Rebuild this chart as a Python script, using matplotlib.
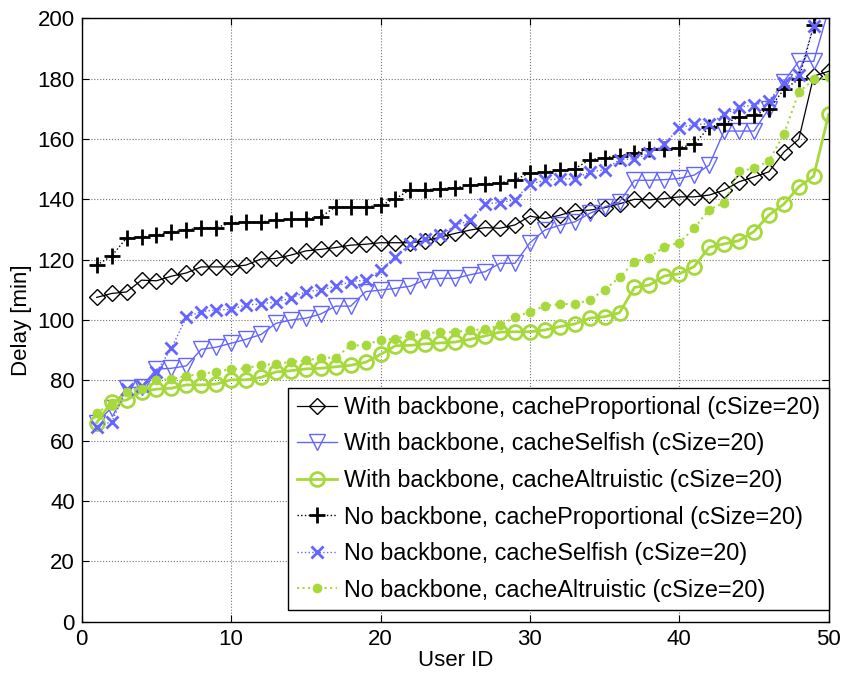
import matplotlib
matplotlib.use("Agg")
import matplotlib.pyplot as plt
import numpy as np

plt.rcParams["font.family"] = ["Liberation Sans", "DejaVu Sans"]

# ----- data ----------------------------------------------------------
user_id = np.arange(1, 51)

prop_bb = [107.5, 108.8, 109.3, 113.2, 113.0, 114.5, 115.6, 117.6, 117.6, 117.6,
           118.2, 120.2, 120.4, 121.5, 122.9, 123.4, 124.0, 124.8, 125.1, 125.6,
           125.6, 125.6, 126.2, 127.5, 128.7, 129.8, 130.6, 130.4, 131.5, 134.4,
           133.6, 134.7, 136.2, 136.4, 137.2, 138.5, 140.0, 139.8, 140.2, 140.8,
           140.8, 141.4, 143.0, 145.8, 147.4, 149.1, 155.6, 159.9, 180.8, 182.4]

selfish_bb = [66.0, 71.0, 77.4, 77.9, 83.7, 84.0, 84.8, 90.3, 91.0, 92.3,
              93.6, 95.2, 98.9, 100.0, 100.6, 102.0, 104.6, 104.6, 109.4, 109.9,
              110.5, 111.2, 113.4, 113.8, 113.8, 115.0, 116.0, 118.8, 118.8, 125.6,
              129.8, 131.4, 132.5, 135.3, 137.5, 139.1, 146.3, 146.3, 146.5, 146.9,
              148.0, 151.3, 162.6, 162.6, 162.6, 170.0, 179.0, 185.7, 185.7, 203.0]

altr_bb = [66.0, 72.9, 73.5, 76.3, 77.1, 77.4, 78.5, 78.5, 78.8, 80.2,
           80.2, 81.0, 82.8, 83.2, 83.8, 84.0, 84.5, 85.0, 86.0, 88.6,
           91.5, 91.6, 92.1, 92.4, 92.7, 93.6, 94.7, 96.0, 96.1, 96.1,
           96.7, 97.8, 98.7, 100.6, 101.1, 102.4, 110.8, 111.6, 114.6, 115.3,
           117.7, 124.1, 125.2, 126.3, 129.3, 134.8, 138.4, 144.1, 147.7, 168.1]

prop_nobb = [118.2, 121.2, 127.2, 127.5, 128.1, 129.2, 129.8, 130.6, 130.6, 132.2,
             132.5, 132.5, 133.1, 133.3, 133.6, 134.2, 137.5, 137.5, 137.5, 138.0,
             140.2, 143.2, 143.2, 143.5, 143.9, 144.6, 145.2, 145.4, 146.5, 148.7,
             149.0, 149.6, 150.1, 153.1, 153.8, 154.5, 155.3, 156.7, 156.5, 157.1,
             158.2, 163.9, 165.0, 167.2, 167.9, 169.8, 176.4, 179.7, 197.6, 212.0]

selfish_nobb = [64.7, 66.3, 77.0, 78.0, 82.9, 90.6, 100.9, 102.8, 103.3, 103.5,
                105.0, 105.3, 106.0, 107.2, 109.4, 109.9, 111.2, 112.7, 113.2, 116.5,
                120.9, 125.3, 127.0, 128.1, 131.4, 133.0, 138.6, 138.8, 139.9, 145.0,
                146.3, 146.8, 146.8, 149.0, 149.8, 153.1, 153.4, 155.2, 158.2, 163.7,
                164.8, 165.0, 168.1, 170.5, 171.2, 172.7, 178.6, 181.3, 197.3, 210.0]

altr_nobb = [69.1, 72.4, 76.3, 77.1, 80.1, 80.4, 81.5, 82.1, 82.9, 83.7,
             84.0, 85.1, 85.5, 86.1, 86.6, 87.5, 87.5, 91.6, 91.6, 93.5,
             93.8, 94.9, 95.5, 96.0, 96.0, 96.7, 96.9, 98.3, 100.9, 102.8,
             104.6, 105.3, 105.3, 106.6, 110.1, 114.1, 119.3, 120.7, 124.3, 125.6,
             130.4, 136.6, 138.8, 149.4, 150.2, 152.7, 161.5, 175.5, 179.7, 180.4]

LABELS = [
    "With backbone, cacheProportional (cSize=20)",
    "With backbone, cacheSelfish (cSize=20)",
    "With backbone, cacheAltruistic (cSize=20)",
    "No backbone, cacheProportional (cSize=20)",
    "No backbone, cacheSelfish (cSize=20)",
    "No backbone, cacheAltruistic (cSize=20)",
]

BLUE = "#6464ff"
GREEN = "#a6d93b"

fig = plt.figure(figsize=(8.43, 6.73), dpi=100)
ax = fig.add_axes([0.097, 0.076, 0.886, 0.897])

ax.plot(user_id, prop_bb, "-", color="black", lw=0.9, marker="D", ms=8.5,
        mfc="none", mec="black", mew=1.0, label=LABELS[0])
ax.plot(user_id, selfish_bb, "-", color=BLUE, lw=1.0, marker="v", ms=11,
        mfc="none", mec=BLUE, mew=1.0, label=LABELS[1])
ax.plot(user_id, altr_bb, "-", color=GREEN, lw=2.0, marker="o", ms=10,
        mfc="none", mec=GREEN, mew=2.0, label=LABELS[2])
ax.plot(user_id, prop_nobb, ":", color="black", lw=1.0, marker="+", ms=11,
        mec="black", mew=2.0, label=LABELS[3])
ax.plot(user_id, selfish_nobb, ":", color=BLUE, lw=1.0, marker="x", ms=8,
        mec=BLUE, mew=2.0, label=LABELS[4])
ax.plot(user_id, altr_nobb, ":", color=GREEN, lw=1.5, marker="o", ms=6.5,
        mfc=GREEN, mec=GREEN, mew=0.5, label=LABELS[5])

ax.set_xlim(0, 50)
ax.set_ylim(0, 200)
ax.set_xticks(range(0, 51, 10))
ax.set_yticks(range(0, 201, 20))
ax.tick_params(direction="in", top=True, right=True, length=5, width=0.8,
               labelsize=16, pad=5)
ax.grid(True, color="0.45", linestyle=":", linewidth=0.8)
ax.set_axisbelow(True)
for sp in ax.spines.values():
    sp.set_linewidth(1.0)

ax.set_xlabel("User ID", fontsize=16, labelpad=0)
ax.set_ylabel("Delay [min]", fontsize=16, labelpad=4)

leg = ax.legend(loc="lower right", bbox_to_anchor=(1.0, 0.02), fontsize=16.8,
                frameon=True, fancybox=False, framealpha=1, edgecolor="black",
                handlelength=1.75, handletextpad=0.3, labelspacing=0.58,
                borderpad=0.35, borderaxespad=0)
leg.get_frame().set_linewidth(1.0)

fig.savefig("out.png", dpi=100, facecolor="white")
